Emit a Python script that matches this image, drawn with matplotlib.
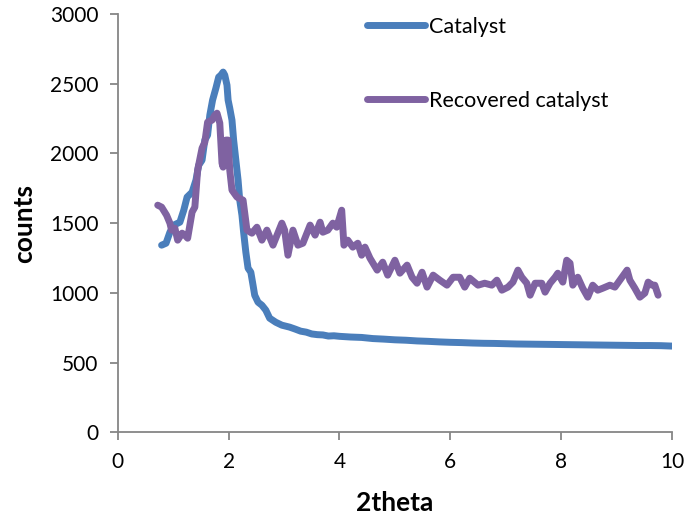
import matplotlib
matplotlib.use('Agg')
import matplotlib.pyplot as plt

plt.rcParams['font.family'] = ['Lato', 'DejaVu Sans']

# Catalyst (blue)
cat_x = [0.79, 0.87, 0.94, 1.01, 1.12, 1.19, 1.25, 1.34, 1.41, 1.46, 1.52, 1.57, 1.62, 1.66,
         1.71, 1.77, 1.82, 1.86, 1.90, 1.93, 1.97, 1.99, 2.02, 2.06, 2.09, 2.13, 2.17, 2.20,
         2.24, 2.27, 2.31, 2.35, 2.40, 2.44, 2.47, 2.53, 2.60, 2.67, 2.74, 2.85, 2.96, 3.10,
         3.2, 3.3, 3.4, 3.5, 3.6, 3.7, 3.8, 3.9, 4.0, 4.2, 4.4, 4.6, 4.8, 5.0, 5.2, 5.4, 5.6,
         5.8, 6.0, 6.2, 6.4, 6.6, 6.8, 7.0, 7.2, 7.4, 7.6, 7.8, 8.0, 8.2, 8.4, 8.6, 8.8, 9.0,
         9.2, 9.4, 9.6, 9.8, 10.0]
cat_y = [1342, 1356, 1435, 1486, 1507, 1593, 1687, 1722, 1809, 1916, 1952, 2096, 2132, 2275,
         2383, 2469, 2548, 2562, 2584, 2562, 2490, 2383, 2325, 2239, 2096, 1952, 1809, 1665,
         1557, 1435, 1292, 1177, 1148, 1055, 983, 933, 911, 876, 818, 789, 768, 754,
         740, 725, 718, 705, 700, 698, 690, 692, 688, 683, 680, 672, 668, 663, 660, 655, 652,
         648, 645, 643, 640, 638, 637, 635, 633, 632, 631, 630, 629, 628, 627, 626, 625, 624,
         623, 622, 622, 621, 618]

# Recovered catalyst (purple)
rec_x = [0.72, 0.79, 0.88, 0.94, 0.97, 1.03, 1.08, 1.16, 1.21, 1.26, 1.34, 1.39, 1.44, 1.52,
         1.57, 1.62, 1.70, 1.75, 1.79, 1.84, 1.88, 1.90, 1.95, 1.99, 2.02, 2.06, 2.15, 2.26,
         2.33, 2.42, 2.51, 2.60, 2.69, 2.80, 2.96, 3.01, 3.07, 3.16, 3.25, 3.34, 3.47, 3.56,
         3.65, 3.70, 3.79, 3.88, 3.95, 4.04, 4.08, 4.15, 4.24, 4.33, 4.40, 4.46, 4.55, 4.68,
         4.78, 4.87, 5.00, 5.09, 5.22, 5.31, 5.40, 5.49, 5.58, 5.69, 5.81, 5.94, 6.05, 6.17,
         6.26, 6.35, 6.50, 6.62, 6.75, 6.84, 6.93, 7.04, 7.13, 7.22, 7.29, 7.38, 7.44, 7.53,
         7.65, 7.71, 7.80, 7.89, 7.94, 8.03, 8.10, 8.16, 8.21, 8.30, 8.39, 8.48, 8.57, 8.66,
         8.75, 8.88, 8.97, 9.06, 9.19, 9.24, 9.33, 9.42, 9.51, 9.57, 9.64, 9.69, 9.75]
rec_y = [1629, 1615, 1557, 1500, 1450, 1464, 1378, 1428, 1414, 1392, 1579, 1615, 1880, 2038,
         2081, 2225, 2239, 2275, 2289, 2218, 1931, 1902, 2096, 2096, 1880, 1737, 1687, 1665,
         1450, 1428, 1471, 1378, 1450, 1342, 1500, 1450, 1270, 1450, 1342, 1356, 1486, 1414,
         1507, 1435, 1450, 1500, 1471, 1593, 1342, 1378, 1328, 1356, 1270, 1328, 1249, 1163,
         1220, 1127, 1234, 1141, 1199, 1112, 1069, 1148, 1041, 1127, 1091, 1055, 1112, 1112,
         1041, 1105, 1055, 1069, 1055, 1091, 1019, 1041, 1077, 1163, 1112, 1069, 983, 1069,
         1069, 1005, 1069, 1112, 1141, 1077, 1234, 1213, 1055, 1112, 1033, 969, 1055, 1019,
         1033, 1055, 1041, 1091, 1163, 1091, 1033, 969, 998, 1077, 1055, 1055, 983]

fig = plt.figure(figsize=(6.85, 5.22), dpi=100)
ax = fig.add_axes([0.172, 0.172, 0.809, 0.801])

ax.plot(cat_x, cat_y, color='#4a7ebb', lw=5, solid_capstyle='round', solid_joinstyle='round', label='Catalyst')
ax.plot(rec_x, rec_y, color='#7f62a1', lw=5, solid_capstyle='round', solid_joinstyle='round', label='Recovered catalyst')

ax.set_xlim(0, 10)
ax.set_ylim(0, 3000)
ax.set_xticks([0, 2, 4, 6, 8, 10])
ax.set_yticks(range(0, 3001, 500))

for s in ['top', 'right']:
    ax.spines[s].set_visible(False)
for s in ['left', 'bottom']:
    ax.spines[s].set_color('#868686')
    ax.spines[s].set_linewidth(1.3)
ax.tick_params(direction='out', length=6, width=1.3, color='#868686', labelsize=15, pad=8)

ax.set_xlabel('2theta', fontsize=19, fontweight='bold', labelpad=14)
ax.set_ylabel('counts', fontsize=19, fontweight='bold', labelpad=10)

ax.legend(loc='upper left', bbox_to_anchor=(0.415, 1.04), frameon=False, fontsize=15.5,
          handlelength=2.7, handletextpad=0.15, labelspacing=2.5)

fig.savefig('out.png', dpi=100)
